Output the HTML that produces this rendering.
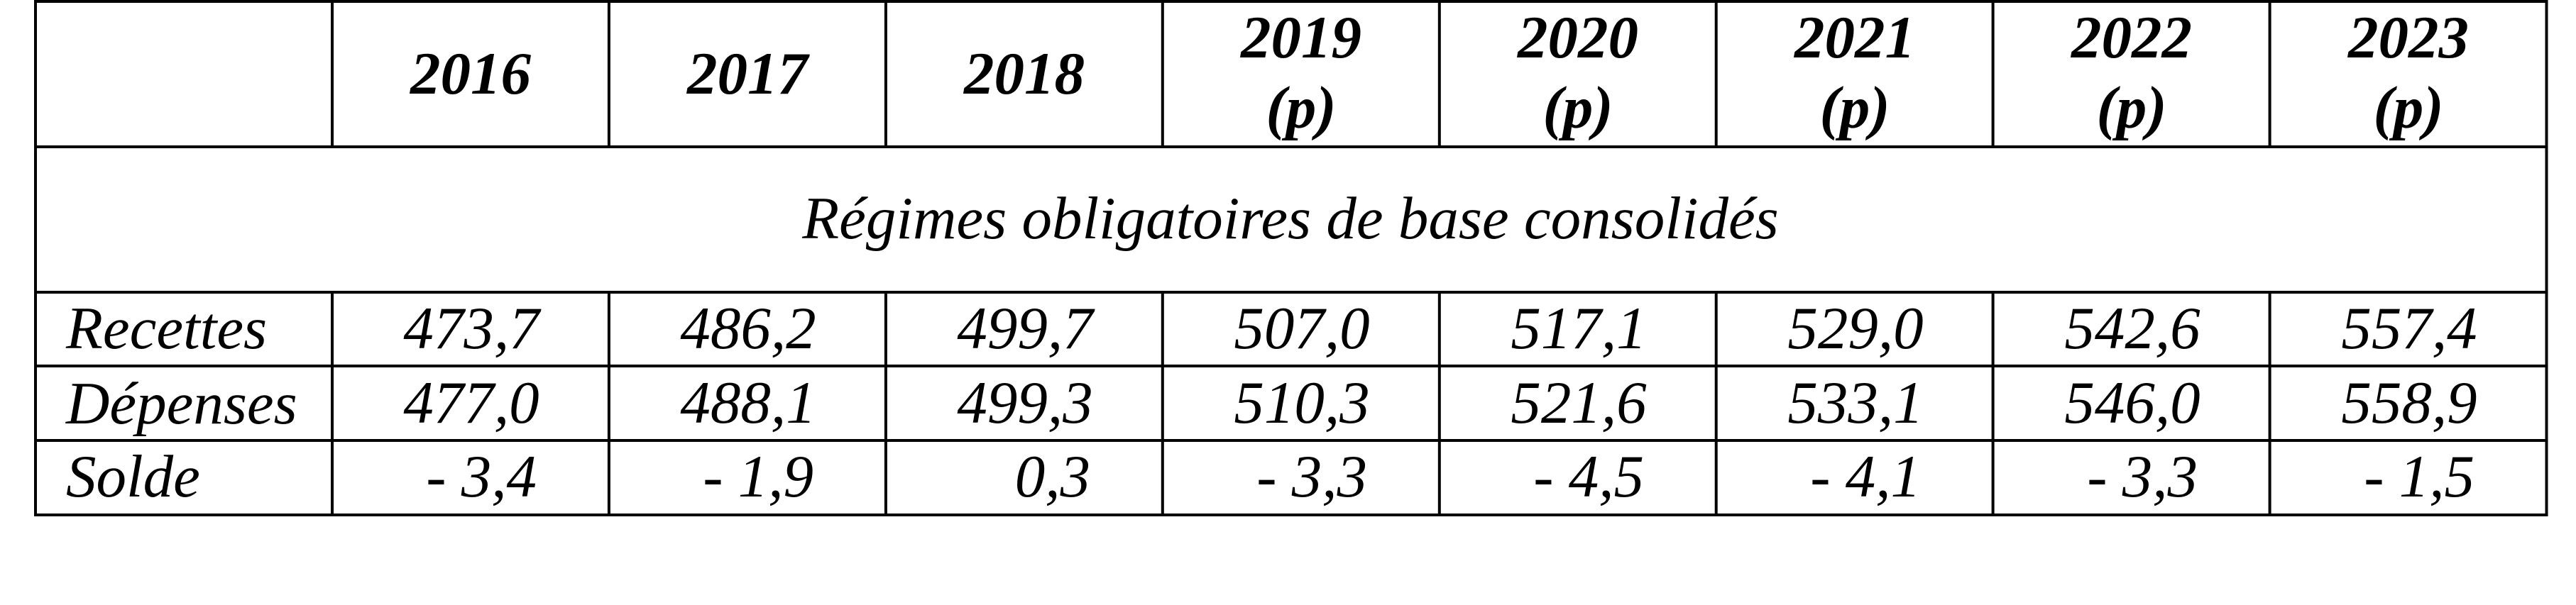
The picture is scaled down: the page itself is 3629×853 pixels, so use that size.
<!DOCTYPE html>
<html>
<head>
<meta charset="utf-8">
<style>
  html, body { margin:0; padding:0; background:#fff; width:3629px; height:853px; overflow:hidden; }
  svg { display:block; }
  text { font-family: "Liberation Serif", "DejaVu Serif", serif; font-style: italic; font-size: 85px; fill:#000; }
  .h { font-weight: bold; }
</style>
</head>
<body>
<svg width="3629" height="853" viewBox="0 0 3629 853" xmlns="http://www.w3.org/2000/svg">
  <rect x="0" y="0" width="3629" height="853" fill="#fff"/>
  <g fill="#000">
    <!-- horizontal lines -->
    <rect x="48" y="0" width="3541.5" height="4"/>
    <rect x="48" y="205" width="3541.5" height="4"/>
    <rect x="48" y="410" width="3541.5" height="4"/>
    <rect x="48" y="514" width="3541.5" height="4"/>
    <rect x="48" y="619" width="3541.5" height="4"/>
    <rect x="48" y="724" width="3541.5" height="4"/>
    <!-- outer verticals -->
    <rect x="48" y="0" width="4" height="728"/>
    <rect x="3585.5" y="0" width="4" height="728"/>
    <!-- internal verticals: header -->
    <rect x="466" y="0" width="4" height="209"/>
    <rect x="855.9" y="0" width="4" height="209"/>
    <rect x="1245.9" y="0" width="4" height="209"/>
    <rect x="1635.8" y="0" width="4" height="209"/>
    <rect x="2025.8" y="0" width="4" height="209"/>
    <rect x="2415.7" y="0" width="4" height="209"/>
    <rect x="2805.6" y="0" width="4" height="209"/>
    <rect x="3195.6" y="0" width="4" height="209"/>
    <!-- internal verticals: data -->
    <rect x="466" y="410" width="4" height="318"/>
    <rect x="855.9" y="410" width="4" height="318"/>
    <rect x="1245.9" y="410" width="4" height="318"/>
    <rect x="1635.8" y="410" width="4" height="318"/>
    <rect x="2025.8" y="410" width="4" height="318"/>
    <rect x="2415.7" y="410" width="4" height="318"/>
    <rect x="2805.6" y="410" width="4" height="318"/>
    <rect x="3195.6" y="410" width="4" height="318"/>
  </g>

  <!-- Header -->
  <g text-anchor="middle" class="h">
    <text class="h" x="663" y="132">2016</text>
    <text class="h" x="1053" y="132">2017</text>
    <text class="h" x="1443" y="132">2018</text>
    <text class="h" x="1833" y="81">2019</text>
    <text class="h" x="1833" y="180">(p)</text>
    <text class="h" x="2223" y="81">2020</text>
    <text class="h" x="2223" y="180">(p)</text>
    <text class="h" x="2613" y="81">2021</text>
    <text class="h" x="2613" y="180">(p)</text>
    <text class="h" x="3003" y="81">2022</text>
    <text class="h" x="3003" y="180">(p)</text>
    <text class="h" x="3393" y="81">2023</text>
    <text class="h" x="3393" y="180">(p)</text>
  </g>

  <!-- Section title -->
  <text x="1818" y="336" text-anchor="middle">Régimes obligatoires de base consolidés</text>

  <!-- Row labels -->
  <text x="93" y="491">Recettes</text>
  <text x="93" y="597">Dépenses</text>
  <text x="93" y="700">Solde</text>

  <!-- Recettes -->
  <g text-anchor="middle">
    <text x="664" y="491">473,7</text>
    <text x="1054" y="491">486,2</text>
    <text x="1444" y="491">499,7</text>
    <text x="1834" y="491">507,0</text>
    <text x="2224" y="491">517,1</text>
    <text x="2614" y="491">529,0</text>
    <text x="3004" y="491">542,6</text>
    <text x="3394" y="491">557,4</text>
  </g>

  <!-- Dépenses -->
  <g text-anchor="middle">
    <text x="664" y="596">477,0</text>
    <text x="1054" y="596">488,1</text>
    <text x="1444" y="596">499,3</text>
    <text x="1834" y="596">510,3</text>
    <text x="2224" y="596">521,6</text>
    <text x="2614" y="596">533,1</text>
    <text x="3004" y="596">546,0</text>
    <text x="3394" y="596">558,9</text>
  </g>

  <!-- Solde -->
  <g text-anchor="end">
    <text x="756" y="700">- 3,4</text>
    <text x="1146" y="700">- 1,9</text>
    <text x="1536" y="700">0,3</text>
    <text x="1926" y="700">- 3,3</text>
    <text x="2316" y="700">- 4,5</text>
    <text x="2706" y="700">- 4,1</text>
    <text x="3096" y="700">- 3,3</text>
    <text x="3486" y="700">- 1,5</text>
  </g>
</svg>
</body>
</html>
